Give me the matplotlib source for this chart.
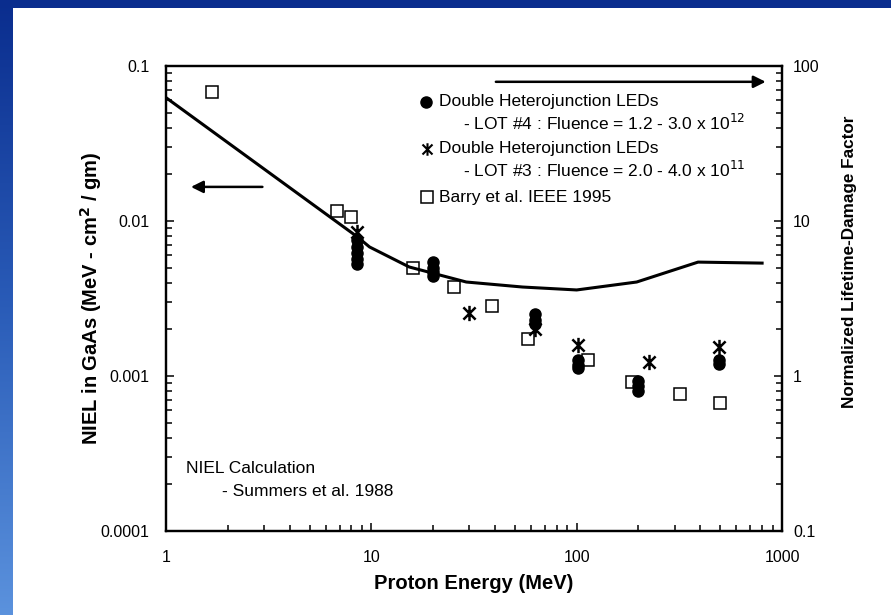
import numpy as np
import matplotlib.pyplot as plt
import matplotlib.ticker as mticker
from matplotlib.colors import LinearSegmentedColormap
from matplotlib.path import Path

plt.rcParams['font.family'] = ['Liberation Sans', 'DejaVu Sans']

# NIEL calculation (Summers et al. 1988)
niel_energy = [1.0, 8.55, 9.8, 15.3, 29.0, 54.5, 100.0, 196.0, 390.0, 800.0]
niel_value = [0.0625, 0.0079, 0.0068, 0.00505, 0.00404, 0.00375, 0.00359, 0.00404, 0.00543, 0.00535]

# Barry et al. IEEE 1995
barry_energy = [1.68, 6.8, 8.0, 15.9, 25.4, 38.9, 57.7, 113.0, 185.0, 318.0, 499.0]
barry_value = [0.068, 0.0116, 0.0106, 0.00497, 0.00375, 0.00283, 0.00173, 0.00127, 0.00091, 0.000765, 0.00067]

# LOT #4 LEDs (right axis factor shown on the NIEL scale)
lot4_energy = [8.5, 8.5, 8.5, 8.5, 8.5, 20, 20, 20, 20, 63, 63, 63, 101, 101, 101, 198, 198, 198, 493, 493]
lot4_value = [0.0075, 0.0068, 0.0062, 0.0057, 0.0053, 0.0054, 0.0050, 0.0047, 0.00445,
              0.0025, 0.0023, 0.00215, 0.00126, 0.00118, 0.00113, 0.00093, 0.00086, 0.00080,
              0.00126, 0.00119]

# LOT #3 LEDs
lot3_energy = [8.5, 30, 63, 101, 225, 493]
lot3_value = [0.0085, 0.00255, 0.0020, 0.00158, 0.00123, 0.00154]

x_ticks = [1, 10, 100, 1000]
x_tick_labels = ['1', '10', '100', '1000']
left_ticks = [0.0001, 0.001, 0.01, 0.1]
left_tick_labels = ['0.0001', '0.001', '0.01', '0.1']
right_ticks = [0.1, 1, 10, 100]
right_tick_labels = ['0.1', '1', '10', '100']

# asterisk: vertical bar crossed by an X
star = Path([(0, -1), (0, 1), (-0.8, -0.8), (0.8, 0.8), (-0.8, 0.8), (0.8, -0.8)],
            [Path.MOVETO, Path.LINETO, Path.MOVETO, Path.LINETO, Path.MOVETO, Path.LINETO])

fig = plt.figure(figsize=(8.91, 6.15), dpi=100)
fig.patch.set_facecolor('white')

# slide frame: dark band on top, gradient band on the left
top_band = fig.add_axes([0, 1 - 8 / 615, 1, 8 / 615])
top_band.set_axis_off()
top_band.add_patch(plt.Rectangle((0, 0), 1, 1, color='#0a2d8e', transform=top_band.transAxes))
side_band = fig.add_axes([0, 0, 13 / 891, 1])
side_band.set_axis_off()
cmap = LinearSegmentedColormap.from_list('slide', ['#0a2d8e', '#2a5cb8', '#5b92dd'])
side_band.imshow(np.linspace(0, 1, 256).reshape(-1, 1), aspect='auto', cmap=cmap,
                 extent=[0, 1, 0, 1])

ax = fig.add_axes([166 / 891, 1 - 531 / 615, 616 / 891, 465 / 615])
ax.set_xscale('log')
ax.set_yscale('log')
ax.set_xlim(1, 1000)
ax.set_ylim(0.0001, 0.1)

ax.plot(niel_energy, niel_value, color='black', lw=2.2, zorder=3)
ax.plot(barry_energy, barry_value, ls='none', marker='s', ms=9, mfc='white', mec='black',
        mew=1.1, zorder=2)
ax.plot(lot3_energy, lot3_value, ls='none', marker=star, ms=11, color='black',
        mew=1.8, zorder=4)
ax.plot(lot4_energy, lot4_value, ls='none', marker='o', ms=8, color='black', zorder=5)

ax.xaxis.set_major_locator(mticker.FixedLocator(x_ticks))
ax.xaxis.set_major_formatter(mticker.FixedFormatter(x_tick_labels))
ax.xaxis.set_minor_locator(mticker.LogLocator(base=10, subs=np.arange(2, 10)))
ax.xaxis.set_minor_formatter(mticker.NullFormatter())
ax.yaxis.set_major_locator(mticker.FixedLocator(left_ticks))
ax.yaxis.set_major_formatter(mticker.FixedFormatter(left_tick_labels))
ax.yaxis.set_minor_locator(mticker.LogLocator(base=10, subs=np.arange(2, 10)))
ax.yaxis.set_minor_formatter(mticker.NullFormatter())
ax.tick_params(which='both', direction='in', top=False, right=False, labelsize=11.5,
               width=1.1, colors='black')
ax.tick_params(which='major', length=6, pad=14)
ax.tick_params(which='minor', length=4)
ax.tick_params(axis='y', pad=12)

ax2 = ax.twinx()
ax2.set_yscale('log')
ax2.set_ylim(0.1, 100)
ax2.yaxis.set_major_locator(mticker.FixedLocator(right_ticks))
ax2.yaxis.set_major_formatter(mticker.FixedFormatter(right_tick_labels))
ax2.yaxis.set_minor_locator(mticker.LogLocator(base=10, subs=np.arange(2, 10)))
ax2.yaxis.set_minor_formatter(mticker.NullFormatter())
ax2.tick_params(which='both', direction='in', labelsize=11.5, width=1.1, pad=8)
ax2.tick_params(which='major', length=6)
ax2.tick_params(which='minor', length=4)

for a in (ax, ax2):
    for sp in a.spines.values():
        sp.set_linewidth(1.6)

ax.set_xlabel('Proton Energy (MeV)', fontsize=14.5, fontweight='bold', labelpad=6)
ax.set_ylabel('NIEL in GaAs (MeV - cm$^\\mathbf{2}$ / gm)', fontsize=14.5, fontweight='bold')
ax.yaxis.set_label_coords(-0.101, 0.5)
ax2.set_ylabel('Normalized Lifetime-Damage Factor', fontsize=12.3, fontweight='bold')
ax2.yaxis.set_label_coords(1.097, 0.578)

# arrows pointing to the axis each data set belongs to
ax.annotate('', xy=(0.036, 0.740), xytext=(0.161, 0.740), xycoords='axes fraction',
            arrowprops=dict(arrowstyle='-|>', color='black', lw=1.8, mutation_scale=18))
ax.annotate('', xy=(0.978, 0.966), xytext=(0.531, 0.966), xycoords='axes fraction',
            arrowprops=dict(arrowstyle='-|>', color='black', lw=1.8, mutation_scale=18))

# legend keys and entries
fs = 12.5
ax.plot([0.422], [0.923], transform=ax.transAxes, marker='o', ms=8, color='black',
        clip_on=False)
ax.text(0.443, 0.923, 'Double Heterojunction LEDs', transform=ax.transAxes,
        fontsize=fs, va='center')
ax.text(0.482, 0.877, '- LOT #4 : Fluence = 1.2 - 3.0 x 10$^{12}$', transform=ax.transAxes,
        fontsize=fs, va='center')
ax.plot([0.424], [0.822], transform=ax.transAxes, marker=star, ms=9, mew=1.5,
        color='black', clip_on=False)
ax.text(0.443, 0.822, 'Double Heterojunction LEDs', transform=ax.transAxes,
        fontsize=fs, va='center')
ax.text(0.482, 0.776, '- LOT #3 : Fluence = 2.0 - 4.0 x 10$^{11}$', transform=ax.transAxes,
        fontsize=fs, va='center')
ax.plot([0.424], [0.718], transform=ax.transAxes, marker='s', ms=9, mfc='white',
        mec='black', mew=1.1, clip_on=False)
ax.text(0.443, 0.718, 'Barry et al. IEEE 1995', transform=ax.transAxes,
        fontsize=fs, va='center')

ax.text(0.032, 0.135, 'NIEL Calculation', transform=ax.transAxes, fontsize=fs, va='center')
ax.text(0.091, 0.084, '- Summers et al. 1988', transform=ax.transAxes, fontsize=fs,
        va='center')

fig.savefig('out.png', dpi=100)
